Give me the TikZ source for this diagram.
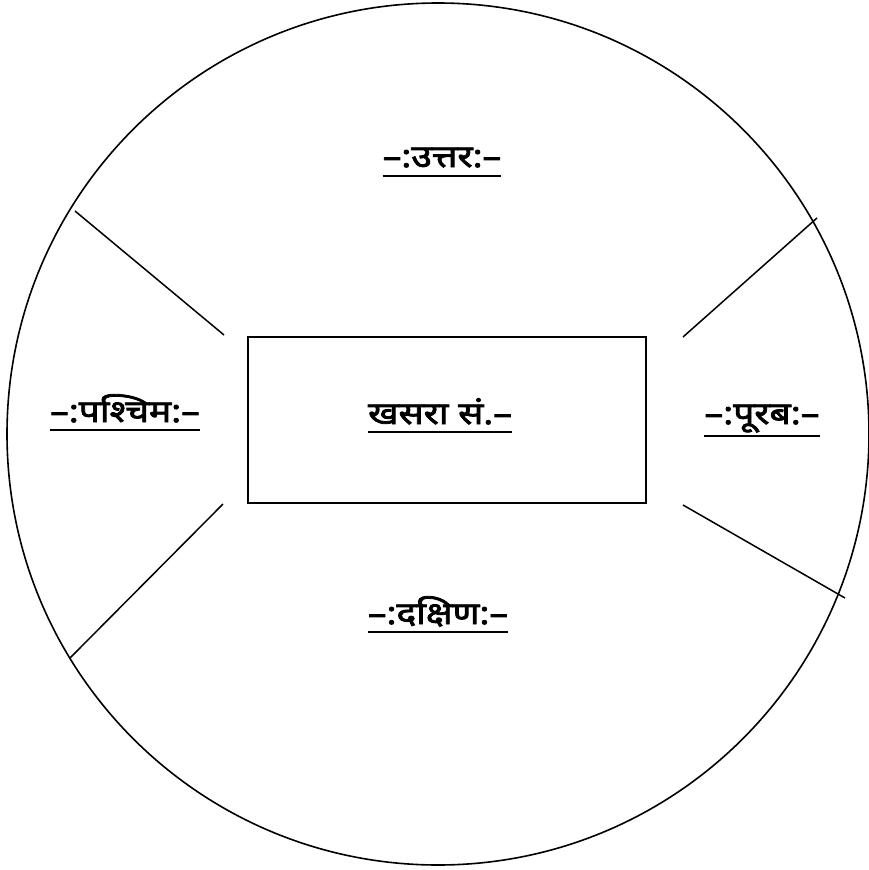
\documentclass[tikz,border=0pt]{standalone}
\usepackage{fontspec}
\newfontfamily\deva[Script=Devanagari, FakeBold=2.5, FakeStretch=1.2]{Noto Sans}
\usetikzlibrary{calc}
\begin{document}
\begin{tikzpicture}[x=1pt,y=-1pt,
  lbl/.style={font=\deva\fontsize{31}{36}\selectfont, inner sep=0pt, anchor=base},
  ln/.style={line width=1.5pt, black},
  ul/.style={line width=1.7pt, black}]
\useasboundingbox (0,0) rectangle (869,870);
\fill[white] (0,0) rectangle (869,870);
% outer circle
\node[draw, circle, minimum size=862pt, inner sep=0pt, line width=1.6pt] (c) at (438,434) {};
% central box
\node[draw, rectangle, minimum width=398pt, minimum height=166pt, inner sep=0pt, line width=1.5pt] (box) at (447,420) {};
% spokes
\coordinate (ul1) at (75,211);  \coordinate (ul2) at (224,335);
\coordinate (ur1) at (817,218); \coordinate (ur2) at (683,337);
\coordinate (ll1) at (70,658);  \coordinate (ll2) at (223,504);
\coordinate (lr1) at (845,598); \coordinate (lr2) at (683,505);
\draw[ln] (ul1) -- (ul2);
\draw[ln] (ur1) -- (ur2);
\draw[ln] (ll1) -- (ll2);
\draw[ln] (lr1) -- (lr2);
% labels
\node[lbl] (n) at (442,167) {–:उत्तर:–};
\node[lbl] (w) at (125,422) {–:पश्चिम:–};
\node[lbl] (e) at (762,424) {–:पूरब:–};
\node[lbl] (k) at (440,424) {खसरा सं.–};
\node[lbl] (s) at (438,624) {–:दक्षिण:–};
\draw[ul] ($(n.base west)+(0,9)$) -- ($(n.base east)+(0,9)$);
\draw[ul] ($(w.base west)+(0,8)$) -- ($(w.base east)+(0,8)$);
\draw[ul] ($(e.base west)+(0,12)$) -- ($(e.base east)+(0,12)$);
\draw[ul] ($(k.base west)+(0,8)$) -- ($(k.base east)+(0,8)$);
\draw[ul] ($(s.base west)+(0,8)$) -- ($(s.base east)+(0,8)$);
\end{tikzpicture}
\end{document}
